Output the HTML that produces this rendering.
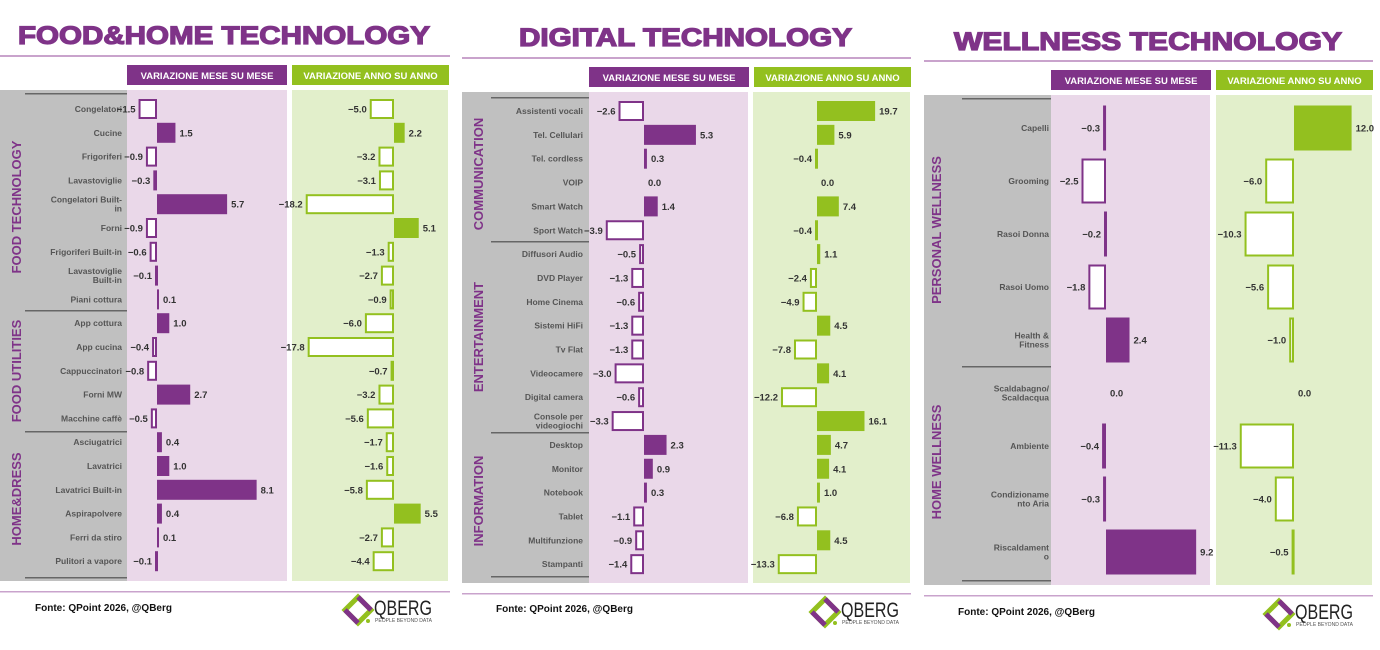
<!DOCTYPE html>
<html><head><meta charset="utf-8"><style>
html,body{margin:0;padding:0;background:#fff;width:1380px;height:650px;overflow:hidden}
svg{display:block;font-family:"Liberation Sans",sans-serif}
</style></head><body>
<svg id="s" width="1380" height="650" viewBox="0 0 1380 650"></svg>
<script>
const P='#7f3388',G='#93c01f';
const panels=[
{title:'FOOD&HOME TECHNOLOGY',tx:18,tw:412,ty:44,rule:[0,450,56],hy:65,hp:[127,287],hg:[292,449],top:90,bot:581,gray:[0,127],pink:[127,287],green:[292,448],
 y0:109,dy:23.8,bh:20,mz:157,ms:12.3,yz:394,ys:4.85,lx:122,seps:[94,311,432,578],sx:25,
 secs:[['FOOD TECHNOLOGY',16,207],['FOOD UTILITIES',16,371],['HOME&DRESS',16,499]],
 foot:[592,35,608,345],
 labels:['Congelatori','Cucine','Frigoriferi','Lavastoviglie','Congelatori Built-|in','Forni','Frigoriferi Built-in','Lavastoviglie|Built-in','Piani cottura','App cottura','App cucina','Cappuccinatori','Forni MW','Macchine caffè','Asciugatrici','Lavatrici','Lavatrici Built-in','Aspirapolvere','Ferri da stiro','Pulitori a vapore'],
 m:[-1.5,1.5,-0.9,-0.3,5.7,-0.9,-0.6,-0.1,0.1,1.0,-0.4,-0.8,2.7,-0.5,0.4,1.0,8.1,0.4,0.1,-0.1],
 y:[-5.0,2.2,-3.2,-3.1,-18.2,5.1,-1.3,-2.7,-0.9,-6.0,-17.8,-0.7,-3.2,-5.6,-1.7,-1.6,-5.8,5.5,-2.7,-4.4]},
{title:'DIGITAL TECHNOLOGY',tx:519,tw:333,ty:46,rule:[462,911,58],hy:67,hp:[589,749],hg:[754,911],top:92,bot:583,gray:[462,589],pink:[589,748],green:[753,910],
 y0:111,dy:23.85,bh:20,mz:644,ms:9.8,yz:817,ys:2.95,lx:583,seps:[98,242,433,577],sx:491,
 secs:[['COMMUNICATION',478,174],['ENTERTAINMENT',478,337],['INFORMATION',478,501]],
 foot:[594,496,609,812],
 labels:['Assistenti vocali','Tel. Cellulari','Tel. cordless','VOIP','Smart Watch','Sport Watch','Diffusori Audio','DVD Player','Home Cinema','Sistemi HiFi','Tv Flat','Videocamere','Digital camera','Console per|videogiochi','Desktop','Monitor','Notebook','Tablet','Multifunzione','Stampanti'],
 m:[-2.6,5.3,0.3,0.0,1.4,-3.9,-0.5,-1.3,-0.6,-1.3,-1.3,-3.0,-0.6,-3.3,2.3,0.9,0.3,-1.1,-0.9,-1.4],
 y:[19.7,5.9,-0.4,0.0,7.4,-0.4,1.1,-2.4,-4.9,4.5,-7.8,4.1,-12.2,16.1,4.7,4.1,1.0,-6.8,4.5,-13.3]},
{title:'WELLNESS TECHNOLOGY',tx:954,tw:388,ty:50,rule:[924,1373,61],hy:70,hp:[1051,1211],hg:[1216,1373],top:95,bot:585,gray:[924,1051],pink:[1051,1210],green:[1216,1372],
 y0:128,dy:53,bh:45,mz:1106,ms:9.8,yz:1294,ys:4.8,lx:1049,seps:[99,367,581],sx:962,
 secs:[['PERSONAL WELLNESS',936,230],['HOME WELLNESS',936,462]],
 foot:[596,958,612,1266],
 labels:['Capelli','Grooming','Rasoi Donna','Rasoi Uomo','Health &|Fitness','Scaldabagno/|Scaldacqua','Ambiente','Condizioname|nto Aria','Riscaldament|o'],
 m:[-0.3,-2.5,-0.2,-1.8,2.4,0.0,-0.4,-0.3,9.2],
 y:[12.0,-6.0,-10.3,-5.6,-1.0,0.0,-11.3,-4.0,-0.5]}
];
let h='';
function t(x,y,s,o){return `<text x="${x}" y="${y}" ${o}>${s.replace(/&/g,'&amp;')}</text>`}
function bar(z,sc,v,cy,bh,c){
 const w=Math.max(Math.abs(v)*sc,2),lab=v.toFixed(1).replace('-','−');
 let r='';
 if(v>0){r+=`<rect x="${z}" y="${cy-bh/2}" width="${w}" height="${bh}" fill="${c}"/>`;
  r+=t(z+w+4,cy+3.5,lab,'font-size="9.5" font-weight="bold" fill="#333"');}
 else if(v<0){r+=`<rect x="${z-w+1}" y="${cy-bh/2+1}" width="${Math.max(w-2,1)}" height="${bh-2}" fill="#fff" stroke="${c}" stroke-width="2"/>`;
  r+=t(z-w-3,cy+3.5,lab,'font-size="9.5" font-weight="bold" fill="#333" text-anchor="end"');}
 else r+=t(z+4,cy+3.5,lab,'font-size="9.5" font-weight="bold" fill="#333"');
 return r;}
for(const p of panels){
 h+=t(p.tx,p.ty,p.title,`font-size="25" font-weight="bold" fill="${P}" stroke="${P}" stroke-width="1.3" textLength="${p.tw}" lengthAdjust="spacingAndGlyphs"`);
 h+=`<rect x="${p.rule[0]}" y="${p.rule[2]-1}" width="${p.rule[1]-p.rule[0]}" height="2" fill="#c9a3cc"/>`;
 h+=`<rect x="${p.hp[0]}" y="${p.hy}" width="${p.hp[1]-p.hp[0]}" height="20" fill="${P}"/>`;
 h+=`<rect x="${p.hg[0]}" y="${p.hy}" width="${p.hg[1]-p.hg[0]}" height="20" fill="${G}"/>`;
 h+=t((p.hp[0]+p.hp[1])/2,p.hy+14,'VARIAZIONE MESE SU MESE','font-size="9.5" font-weight="bold" fill="#fff" text-anchor="middle"');
 h+=t((p.hg[0]+p.hg[1])/2,p.hy+14,'VARIAZIONE ANNO SU ANNO','font-size="9.5" font-weight="bold" fill="#fff" text-anchor="middle"');
 h+=`<rect x="${p.gray[0]}" y="${p.top}" width="${p.gray[1]-p.gray[0]}" height="${p.bot-p.top}" fill="#c0c0c0"/>`;
 h+=`<rect x="${p.pink[0]}" y="${p.top}" width="${p.pink[1]-p.pink[0]}" height="${p.bot-p.top}" fill="#ead8e9"/>`;
 h+=`<rect x="${p.green[0]}" y="${p.top}" width="${p.green[1]-p.green[0]}" height="${p.bot-p.top}" fill="#e2efcb"/>`;
 for(const s of p.seps)h+=`<rect x="${p.sx}" y="${s-1}" width="${p.gray[1]-p.sx}" height="1.5" fill="#666"/>`;
 for(const s of p.secs)h+=`<text transform="translate(${s[1]+5},${s[2]}) rotate(-90)" text-anchor="middle" font-size="13" font-weight="bold" fill="${P}">${s[0].replace(/&/g,'&amp;')}</text>`;
 p.labels.forEach((l,i)=>{const cy=p.y0+i*p.dy,ls=l.split('|');
  ls.forEach((q,j)=>{h+=t(p.lx,cy+3+(j-(ls.length-1)/2)*9,q,'font-size="8.5" font-weight="bold" fill="#555" text-anchor="end"')});
  h+=bar(p.mz,p.ms,p.m[i],cy,p.bh,P);h+=bar(p.yz,p.ys,p.y[i],cy,p.bh,G);});
 const f=p.foot;
 h+=`<rect x="${p.rule[0]}" y="${f[0]-1}" width="${p.rule[1]-p.rule[0]}" height="1.5" fill="#c9a3cc"/>`;
 h+=t(f[1],f[2]+3,'Fonte: QPoint 2026, @QBerg','font-size="10" font-weight="bold" fill="#111"');
 const lx=f[3],ly=f[0]+5;
 h+=`<g transform="translate(${lx},${ly})"><path d="M13 0 L26 13 L13 26 L0 13 Z" fill="none" stroke="${G}" stroke-width="5"/>
 <path d="M13 0 L26 13" stroke="${P}" stroke-width="5"/><path d="M0 13 L13 26" stroke="${P}" stroke-width="5"/>
 <circle cx="23" cy="24" r="2" fill="${G}"/></g>`;
 h+=t(lx+29,ly+18,'QBERG','font-size="21" fill="#222" textLength="58" lengthAdjust="spacingAndGlyphs"');
 h+=t(lx+30,ly+25,'PEOPLE BEYOND DATA','font-size="5.5" fill="#555" textLength="57" lengthAdjust="spacingAndGlyphs"');
}
document.getElementById('s').innerHTML=h;
</script>
</body></html>
